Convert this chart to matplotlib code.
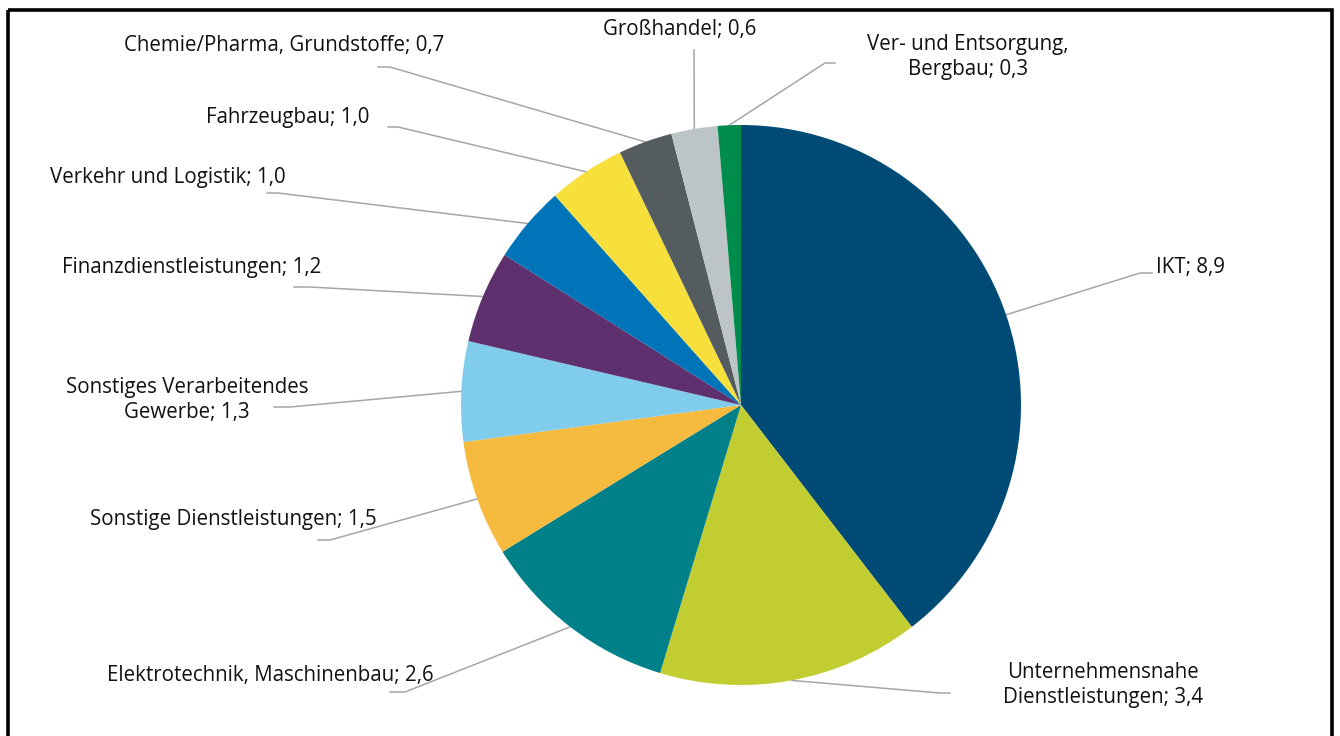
import numpy as np
import matplotlib.pyplot as plt
from matplotlib.patches import Rectangle

names = ["IKT", "Unternehmensnahe\nDienstleistungen", "Elektrotechnik, Maschinenbau",
         "Sonstige Dienstleistungen", "Sonstiges Verarbeitendes\nGewerbe",
         "Finanzdienstleistungen", "Verkehr und Logistik", "Fahrzeugbau",
         "Chemie/Pharma, Grundstoffe", "Großhandel", "Ver- und Entsorgung,\nBergbau"]
values = [8.9, 3.4, 2.6, 1.5, 1.3, 1.2, 1.0, 1.0, 0.7, 0.6, 0.3]
colors = ["#004b76", "#c2cd32", "#00818a", "#f6ba3e", "#80ccec", "#5e316e",
          "#0074b8", "#f7df3c", "#545c5f", "#bcc4c7", "#008c4a"]

# label layout in pixel coords: text x, text y, ha, elbow x, elbow y, end x
layout = [
    (1156, 267, "left", 1140, 273, 1152),
    (1103, 685, "center", 940, 693, 950),
    (270, 675, "center", 405, 692, 390),
    (233, 519, "center", 330, 540, 318),
    (187, 400, "center", 290, 407, 274),
    (192, 267, "center", 310, 287, 294),
    (168, 178, "center", 278, 193, 267),
    (288, 117, "center", 398, 127, 388),
    (284, 45, "center", 390, 67, 378),
    (680, 30, "center", 694, 50, 694),
    (968, 57, "center", 825, 63, 835),
]

plt.rcParams['font.family'] = ['Open Sans', 'DejaVu Sans']

W, H = 1340, 736
fig = plt.figure(figsize=(W / 100, H / 100), dpi=100)
ax = fig.add_axes([0, 0, 1, 1])

cx, cy, r = 741, 405, 280
wedges, _ = ax.pie(values, colors=colors, startangle=-90, counterclock=True,
                   center=(cx, cy), radius=r, frame=True)
ax.set_xlim(0, W)
ax.set_ylim(H, 0)
ax.set_aspect("equal")
ax.axis("off")

for w, name, v, (tx, ty, ha, ex, ey, hx) in zip(wedges, names, values, layout):
    mid = np.deg2rad((w.theta1 + w.theta2) / 2)
    px, py = cx + r * np.cos(mid), cy + r * np.sin(mid)
    ax.plot([px, ex, hx], [py, ey, ey], color="#a6a6a6", lw=1.1, zorder=0)
    label = f"{name}; {v:.1f}".replace(".", ",")
    ax.text(tx, ty, label, ha=ha, va="center", multialignment="center",
            fontsize=14.8, color="#111111", linespacing=1.2)

ax.add_patch(Rectangle((7.5, 9.5), 1324, 800, fill=False, ec="black", lw=2.6))

fig.savefig("out.png", dpi=100)
